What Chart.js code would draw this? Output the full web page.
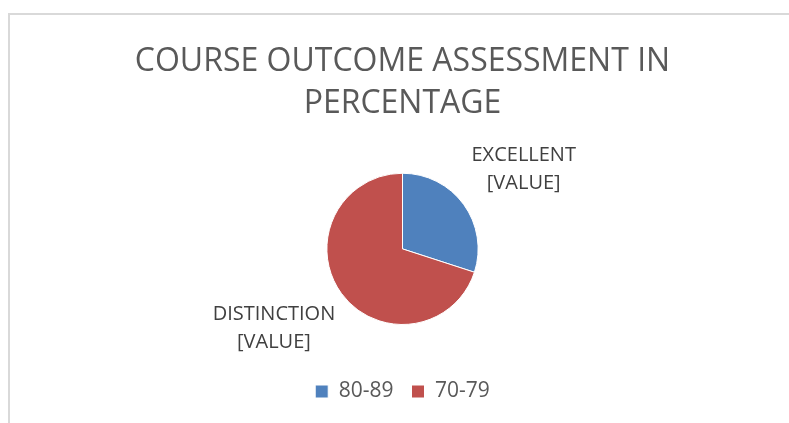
<!DOCTYPE html>
<html>
<head>
<meta charset="utf-8">
<script src="https://cdn.jsdelivr.net/npm/chart.js@4.4.1/dist/chart.umd.min.js"></script>
<style>
  html, body { margin: 0; padding: 0; background: #fff; }
  .wrap { position: relative; width: 789px; height: 423px; overflow: hidden; }
  .frame { position: absolute; left: 8px; top: 13px; width: 800px; height: 430px;
           border-left: 2px solid #d9d9d9; border-top: 2px solid #d9d9d9; }
  canvas { position: absolute; left: 0; top: 0; }
</style>
</head>
<body>
<div class="wrap">
  <div class="frame"></div>
  <canvas id="chart" width="789" height="423"></canvas>
</div>
<script>
const seriesLabels = ['80-89', '70-79'];
const gradeNames = ['EXCELLENT', 'DISTINCTION'];
const percentages = [30, 70];
const sliceColors = ['#4f81bd', '#c0504d'];

// Excel style "outside end" data labels, placed from the arc geometry
const valueLabels = {
  id: 'valueLabels',
  afterDatasetsDraw(chart) {
    const ctx = chart.ctx;
    const arcs = chart.getDatasetMeta(0).data;
    ctx.save();
    ctx.font = '20px "Open Sans", sans-serif';
    ctx.fillStyle = '#404040';
    ctx.textAlign = 'center';
    ctx.textBaseline = 'middle';
    arcs.forEach((arc, i) => {
      const p = arc.getProps(['x', 'y', 'startAngle', 'endAngle', 'outerRadius'], true);
      const mid = (p.startAngle + p.endAngle) / 2;
      const cos = Math.cos(mid), sin = Math.sin(mid);
      const halfW = Math.max(ctx.measureText(gradeNames[i]).width, ctx.measureText('[VALUE]').width) / 2;
      const base = p.outerRadius + 22;
      const cx = p.x + cos * (base + halfW);
      const cy = p.y + sin * (base + 38);
      ctx.fillText(gradeNames[i], cx, cy - 14);
      ctx.fillText('[VALUE]', cx, cy + 14);
    });
    ctx.restore();
  }
};

new Chart(document.getElementById('chart'), {
  type: 'pie',
  data: {
    labels: seriesLabels,
    datasets: [{
      data: percentages,
      backgroundColor: sliceColors,
      borderColor: '#ffffff',
      borderWidth: 1
    }]
  },
  options: {
    responsive: false,
    animation: false,
    layout: { padding: { top: 15, bottom: 11, left: 22, right: 6 } },
    plugins: {
      title: {
        display: true,
        text: ['COURSE OUTCOME ASSESSMENT IN', 'PERCENTAGE'],
        color: '#595959',
        font: { family: '"Open Sans", sans-serif', size: 32, weight: 'normal', lineHeight: 1.34 },
        padding: { top: 25, bottom: 47 }
      },
      legend: {
        position: 'bottom',
        title: { display: true, text: ' ', font: { size: 10, lineHeight: 1.2 }, padding: { top: 26, bottom: 0 } },
        labels: {
          boxWidth: 13,
          boxHeight: 13,
          padding: 18,
          color: '#595959',
          font: { family: '"Open Sans", sans-serif', size: 21 }
        }
      },
      tooltip: { enabled: false }
    }
  },
  plugins: [valueLabels]
});
</script>
</body>
</html>
